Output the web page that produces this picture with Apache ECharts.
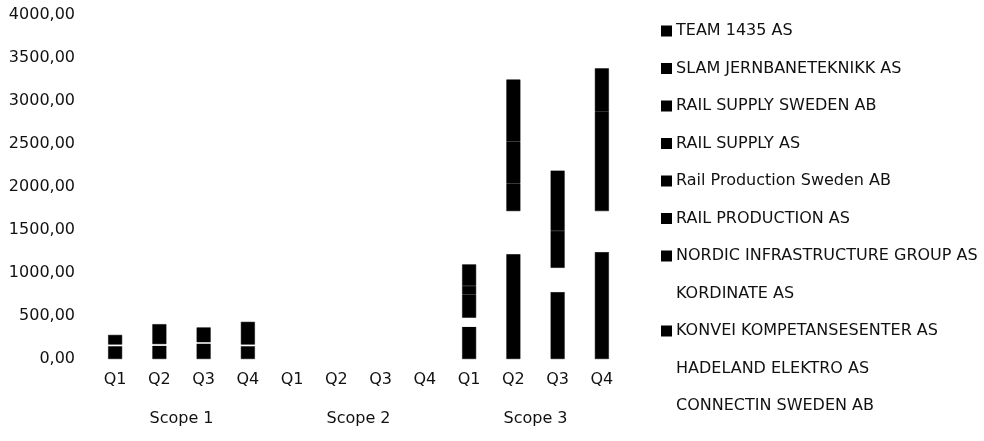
<!DOCTYPE html>
<html>
<head>
<meta charset="utf-8">
<script src="https://cdn.jsdelivr.net/npm/echarts@6/dist/echarts.min.js"></script>
<style>
html,body{margin:0;padding:0;background:#fff;}
#chart{width:984px;height:441px;}
</style>
</head>
<body>
<div id="chart"></div>
<script>
// ---- data ----
var quarters = ['Q1', 'Q2', 'Q3', 'Q4'];
var scopes = ['Scope 1', 'Scope 2', 'Scope 3'];
var yTicks = { min: 0, max: 4000, interval: 500 };

// series from bottom of the stack to top
var seriesNames = [
  'CONNECTIN SWEDEN AB',
  'HADELAND ELEKTRO AS',
  'KONVEI KOMPETANSESENTER AS',
  'KORDINATE AS',
  'NORDIC INFRASTRUCTURE GROUP AS',
  'RAIL PRODUCTION AS',
  'Rail Production Sweden AB',
  'RAIL SUPPLY AS',
  'RAIL SUPPLY SWEDEN AB',
  'SLAM JERNBANETEKNIKK AS',
  'TEAM 1435 AS'
];
var seriesColors = ['#ffffff', '#ffffff', '#000000', '#ffffff', '#000000', '#000000', '#000000', '#000000', '#000000', '#000000', '#000000'];

var connectin  = [0, 0, 0, 0, 0, 0, 0, 0, 0, 0, 0, 0];
var hadeland   = [0, 0, 0, 0, 0, 0, 0, 0, 0, 0, 0, 0];
var konvei     = [150, 155, 180, 150, 0, 0, 0, 0, 375, 1220, 780, 1245];
var kordinate  = [18, 18, 15, 18, 0, 0, 0, 0, 105, 500, 280, 475];
var nordic     = [112, 232, 172, 264, 0, 0, 0, 0, 270, 320, 430, 1160];
var railProd   = [0, 0, 0, 0, 0, 0, 0, 0, 100, 490, 700, 500];
var railProdSe = [0, 0, 0, 0, 0, 0, 0, 0, 250, 720, 0, 0];
var railSupply = [0, 0, 0, 0, 0, 0, 0, 0, 0, 0, 0, 0];
var railSupSe  = [0, 0, 0, 0, 0, 0, 0, 0, 0, 0, 0, 0];
var slam       = [0, 0, 0, 0, 0, 0, 0, 0, 0, 0, 0, 0];
var team       = [0, 0, 0, 0, 0, 0, 0, 0, 0, 0, 0, 0];
var seriesData = [connectin, hadeland, konvei, kordinate, nordic, railProd, railProdSe, railSupply, railSupSe, slam, team];

// ---- build ----
var categories = [];
scopes.forEach(function () { quarters.forEach(function (q) { categories.push(q); }); });

var FONT = 'DejaVu Sans';
var FS = 16;
var TXT = '#111';

var series = seriesNames.map(function (n, i) {
  var black = seriesColors[i] !== '#ffffff';
  return {
    name: n,
    type: 'bar',
    stack: 'total',
    barWidth: 14,
    // empty segments are not drawn (so their borders do not show)
    data: seriesData[i].map(function (v) { return v === 0 ? '-' : v; }),
    itemStyle: black ? { color: seriesColors[i], borderColor: '#000', borderWidth: 0.5 } : { color: seriesColors[i] },
    emphasis: { disabled: true },
    animation: false
  };
});

var chart = echarts.init(document.getElementById('chart'), null, { renderer: 'canvas' });
chart.setOption({
  animation: false,
  grid: { left: 93, right: 360, top: 15, bottom: 82, containLabel: false },
  legend: {
    orient: 'vertical',
    left: 661,
    top: 23,
    padding: 0,
    itemWidth: 9,
    itemHeight: 9,
    itemGap: 21.5,
    icon: 'rect',
    data: seriesNames.slice().reverse(),
    textStyle: { fontFamily: FONT, fontSize: FS, color: TXT, lineHeight: 16 },
    selectedMode: false
  },
  xAxis: [
    {
      type: 'category',
      data: categories,
      axisLine: { show: false },
      axisTick: { show: false },
      axisLabel: { fontFamily: FONT, fontSize: FS, color: TXT, margin: 13, interval: 0 }
    },
    {
      type: 'category',
      data: scopes,
      position: 'bottom',
      offset: 39,
      gridIndex: 0,
      axisLine: { show: false },
      axisTick: { show: false },
      axisLabel: { fontFamily: FONT, fontSize: FS, color: TXT, margin: 13, interval: 0 }
    }
  ],
  yAxis: {
    type: 'value',
    min: yTicks.min,
    max: yTicks.max,
    interval: yTicks.interval,
    splitLine: { show: false },
    axisLine: { show: false },
    axisTick: { show: false },
    axisLabel: {
      fontFamily: FONT, fontSize: FS, color: TXT, margin: 18,
      formatter: function (v) { return v.toFixed(2).replace('.', ','); }
    }
  },
  series: series
});
</script>
</body>
</html>
